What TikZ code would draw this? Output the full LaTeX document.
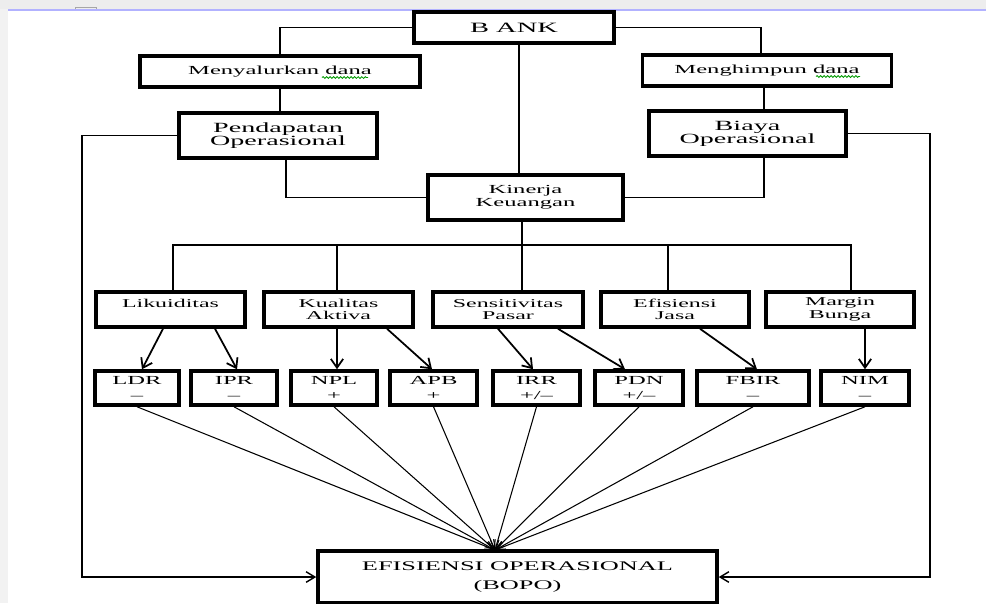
\documentclass[tikz,border=0pt]{standalone}
\usepackage{fontspec}
\setmainfont[FakeStretch=2]{Liberation Serif}
\usetikzlibrary{arrows.meta, calc, positioning, decorations.pathmorphing}

\newcommand{\kotak}[6]{
    \node[kotak, #5, minimum width=#3*0.02cm, minimum height=#4*0.02cm] (#1) at (#2) {#6};
}

\tikzset{
    kotak/.style={draw, line width=2pt, inner sep=0pt, align=center},
    besar/.style={font=\fontsize{8.1}{8}\selectfont},
    sedang/.style={font=\fontsize{8}{7.4}\selectfont},
    kecil/.style={font=\fontsize{7}{7.4}\selectfont},
    kategori/.style={font=\fontsize{6.8}{7.2}\selectfont},
    indikator/.style={font=\fontsize{7}{8.5}\selectfont},
    akhir/.style={font=\fontsize{7.5}{11.3}\selectfont},
    garis/.style={line width=0.9pt},
    panah/.style={line width=1pt, -{Straight Barb[length=5pt,width=7pt]}},
    kipas/.style={line width=0.6pt, -{Straight Barb[length=5pt,width=5pt]}},
    samping/.style={line width=0.8pt, -{Straight Barb[length=5pt,width=6pt]}},
    ejaan/.style={green!60!black, line width=0.5pt, decorate, decoration={snake, amplitude=0.5pt, segment length=2pt}}
}

\begin{document}
\begin{tikzpicture}[x=0.02cm, y=-0.02cm]
                    \useasboundingbox (0,0) rectangle (986,603);
                    % bingkai layar
                    \fill[black!7] (0,0) rectangle (986,9);
                    \fill[black!5] (0,9) rectangle (8,603);
                    \draw[blue!30, line width=1pt] (8,10) -- (986,10);
                    \draw[black!35, line width=0.4pt] (75,9) -- (75,7) -- (96,7) -- (96,9);
                    % kotak atas
                    \kotak{bank}{514,27.5}{200}{31}{besar}{B ANK}
                    \kotak{salur}{280,71.5}{280}{31}{kecil}{Menyalurkan dana}
                    \kotak{himpun}{767,70.5}{249}{31}{kecil}{Menghimpun dana}
                    \kotak{pendapatan}{278,135.5}{198}{45}{sedang}{Pendapatan\\Operasional}
                    \kotak{biaya}{747.5,133.5}{197}{45}{sedang}{Biaya\\Operasional}
                    \kotak{kinerja}{525.5,197.5}{195}{45}{kecil}{Kinerja\\Keuangan}
                    % kategori
                    \kotak{likuid}{170.5,309.5}{149}{35}{kategori}{Likuiditas\\\mbox{}}
                    \kotak{kualitas}{338.5,309.5}{149}{35}{kategori}{Kualitas\\Aktiva}
                    \kotak{sensitiv}{508,309.5}{150}{35}{kategori}{Sensitivitas\\Pasar}
                    \kotak{jasa}{675,309.5}{148}{35}{kategori}{Efisiensi\\Jasa}
                    \kotak{margin}{840,309.5}{148}{35}{kategori}{Margin\\Bunga}
                    % indikator
                    \kotak{ldr}{137,388}{84}{34}{indikator}{LDR\\--}
                    \kotak{ipr}{234,388}{86}{34}{indikator}{IPR\\--}
                    \kotak{npl}{334,388}{86}{34}{indikator}{NPL\\+}
                    \kotak{apb}{433.5,388}{87}{34}{indikator}{APB\\+}
                    \kotak{irr}{536.5,388}{87}{34}{indikator}{IRR\\+/--}
                    \kotak{pdn}{639,388}{88}{34}{indikator}{PDN\\+/--}
                    \kotak{fbir}{753,388}{112}{34}{indikator}{FBIR\\--}
                    \kotak{nim}{865,388}{88}{34}{indikator}{NIM\\--}
                    \kotak{bopo}{517.5,577}{399}{52}{akhir}{EFISIENSI OPERASIONAL\\(BOPO)}
                    \coordinate (kiri) at (82,577);
                    \coordinate (kanan) at (930,577);
                    \coordinate (cabang) at (522,245);
                    \coordinate (titik) at (495,550);
                    % garis penghubung
                    \draw[garis]
                    (bank.west) -| (salur.north)
                    (salur.south) -- (salur.south |- pendapatan.north)
                    ([shift={(8,0)}]pendapatan.south) |- (kinerja.west)
                    ([shift={(5,0)}]bank.south) -- ([shift={(5,0)}]bank.south |- kinerja.north)
                    (bank.east) -| ([shift={(-6,0)}]himpun.north)
                    ([shift={(-3,0)}]himpun.south) -- ([shift={(-3,0)}]himpun.south |- biaya.north)
                    ([shift={(16.5,0)}]biaya.south) |- (kinerja.east)
                    (cabang |- kinerja.south) -- (cabang)
                    (cabang) -| ([shift={(2.5,0)}]likuid.north)
                    (cabang) -| ([shift={(-1.5,0)}]kualitas.north)
                    (cabang) -| ([shift={(14,0)}]sensitiv.north)
                    (cabang) -| ([shift={(-7,0)}]jasa.north)
                    (cabang) -| ([shift={(11,0)}]margin.north);
                    \draw[samping] (pendapatan.west) -| (kiri) -- (bopo.west);
                    \draw[samping] (biaya.east) -| (kanan) -- (bopo.east);
                    % panah kategori
                    \draw[panah] ([shift={(-7.5,0)}]likuid.south) -- ([shift={(5,0)}]ldr.north);
                    \draw[panah] ([shift={(44.5,0)}]likuid.south) -- ([shift={(3,0)}]ipr.north);
                    \draw[panah] ([shift={(-1.5,0)}]kualitas.south) -- ([shift={(3,0)}]npl.north);
                    \draw[panah] ([shift={(48.5,0)}]kualitas.south) -- ([shift={(-1.5,0)}]apb.north);
                    \draw[panah] ([shift={(-10,0)}]sensitiv.south) -- ([shift={(-3.5,0)}]irr.north);
                    \draw[panah] ([shift={(50,0)}]sensitiv.south) -- ([shift={(-14,0)}]pdn.north);
                    \draw[panah] ([shift={(25,0)}]jasa.south) -- ([shift={(4,0)}]fbir.north);
                    \draw[panah] ([shift={(25,0)}]margin.south) -- (nim.north);
                    % kipas ke BOPO
                    \draw[kipas] (ldr.south) -- (titik);
                    \draw[kipas] (ipr.south) -- (titik);
                    \draw[kipas] (npl.south) -- (titik);
                    \draw[kipas] (apb.south) -- (titik);
                    \draw[kipas] (irr.south) -- (titik);
                    \draw[kipas] (pdn.south) -- (titik);
                    \draw[kipas] (fbir.south) -- (titik);
                    \draw[kipas] (nim.south) -- (titik);
                    % garis ejaan
                    \draw[ejaan] ([shift={(42,6)}]salur.center) -- ([shift={(88,6)}]salur.center);
                    \draw[ejaan] ([shift={(49,6)}]himpun.center) -- ([shift={(93,6)}]himpun.center);
                \end{tikzpicture}
\end{document}
